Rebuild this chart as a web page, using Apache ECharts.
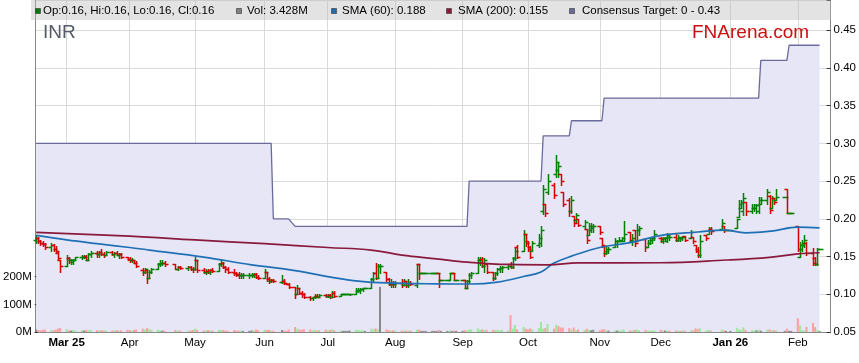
<!DOCTYPE html>
<html><head><meta charset="utf-8">
<script src="https://cdn.jsdelivr.net/npm/echarts@6/dist/echarts.min.js"></script>
<style>html,body{margin:0;padding:0;background:#fff}#c{width:859px;height:363px}</style>
</head><body><div id="c"></div>
<script>
// ---------- DATA ----------
const days = [
 '2025-02-17','2025-02-18','2025-02-19','2025-02-20','2025-02-21','2025-02-24','2025-02-25','2025-02-26','2025-02-27','2025-02-28',
 '2025-03-03','2025-03-04','2025-03-05','2025-03-06','2025-03-07','2025-03-10','2025-03-11','2025-03-12','2025-03-13','2025-03-14','2025-03-17','2025-03-18','2025-03-19','2025-03-20','2025-03-21','2025-03-24','2025-03-25','2025-03-26','2025-03-27','2025-03-28','2025-03-31',
 '2025-04-01','2025-04-02','2025-04-03','2025-04-04','2025-04-07','2025-04-08','2025-04-09','2025-04-10','2025-04-11','2025-04-14','2025-04-15','2025-04-16','2025-04-17','2025-04-22','2025-04-23','2025-04-24','2025-04-28','2025-04-29','2025-04-30',
 '2025-05-01','2025-05-02','2025-05-05','2025-05-06','2025-05-07','2025-05-08','2025-05-09','2025-05-12','2025-05-13','2025-05-14','2025-05-15','2025-05-16','2025-05-19','2025-05-20','2025-05-21','2025-05-22','2025-05-23','2025-05-26','2025-05-27','2025-05-28','2025-05-29','2025-05-30',
 '2025-06-02','2025-06-03','2025-06-04','2025-06-05','2025-06-06','2025-06-10','2025-06-11','2025-06-12','2025-06-13','2025-06-16','2025-06-17','2025-06-18','2025-06-19','2025-06-20','2025-06-23','2025-06-24','2025-06-25','2025-06-26','2025-06-27','2025-06-30',
 '2025-07-01','2025-07-02','2025-07-03','2025-07-04','2025-07-07','2025-07-08','2025-07-09','2025-07-10','2025-07-11','2025-07-14','2025-07-15','2025-07-16','2025-07-17','2025-07-18','2025-07-21','2025-07-22','2025-07-23','2025-07-24','2025-07-25','2025-07-28','2025-07-29','2025-07-30','2025-07-31',
 '2025-08-01','2025-08-04','2025-08-05','2025-08-06','2025-08-07','2025-08-08','2025-08-11','2025-08-12','2025-08-13','2025-08-14','2025-08-15','2025-08-18','2025-08-19','2025-08-20','2025-08-21','2025-08-22','2025-08-25','2025-08-26','2025-08-27','2025-08-28','2025-08-29',
 '2025-09-01','2025-09-02','2025-09-03','2025-09-04','2025-09-05','2025-09-08','2025-09-09','2025-09-10','2025-09-11','2025-09-12','2025-09-15','2025-09-16','2025-09-17','2025-09-18','2025-09-19','2025-09-22','2025-09-23','2025-09-24','2025-09-25','2025-09-26','2025-09-29','2025-09-30',
 '2025-10-01','2025-10-02','2025-10-03','2025-10-06','2025-10-07','2025-10-08','2025-10-09','2025-10-10','2025-10-13','2025-10-14','2025-10-15','2025-10-16','2025-10-17','2025-10-20','2025-10-21','2025-10-22','2025-10-23','2025-10-24','2025-10-27','2025-10-28','2025-10-29','2025-10-30','2025-10-31',
 '2025-11-03','2025-11-04','2025-11-05','2025-11-06','2025-11-07','2025-11-10','2025-11-11','2025-11-12','2025-11-13','2025-11-14','2025-11-17','2025-11-18','2025-11-19','2025-11-20','2025-11-21','2025-11-24','2025-11-25','2025-11-26','2025-11-27','2025-11-28',
 '2025-12-01','2025-12-02','2025-12-03','2025-12-04','2025-12-05','2025-12-08','2025-12-09','2025-12-10','2025-12-11','2025-12-12','2025-12-15','2025-12-16','2025-12-17','2025-12-18','2025-12-19','2025-12-22','2025-12-23','2025-12-24','2025-12-29','2025-12-30','2025-12-31',
 '2026-01-02','2026-01-05','2026-01-06','2026-01-07','2026-01-08','2026-01-09','2026-01-12','2026-01-13','2026-01-14','2026-01-15','2026-01-16','2026-01-19','2026-01-20','2026-01-21','2026-01-22','2026-01-23','2026-01-27','2026-01-28','2026-01-29','2026-01-30',
 '2026-02-02','2026-02-03','2026-02-04','2026-02-05','2026-02-06','2026-02-09','2026-02-10','2026-02-11','2026-02-12'
];
const open = [
 .172,.175,.17,.168,.166,.162,.165,.16,.155,.146,
 .138,.148,.145,.143,.146,.149,.15,.151,.146,.153,.155,.153,.156,.154,.152,.156,.153,.155,.152,.154,.15,
 .147,.145,.146,.142,.132,.13,.132,.122,.13,.133,.14,.142,.142,.14,.134,.136,.135,.136,.134,
 .133,.145,.132,.13,.131,.13,.132,.131,.14,.142,.136,.133,.13,.128,.126,.125,.125,.125,.126,.125,.127,.123,
 .122,.13,.12,.118,.119,.116,.118,.115,.114,.11,.1,.108,.102,.1,.097,.095,.096,.098,.097,.099,
 .098,.099,.096,.102,.098,.1,.1,.1,.1,.1,.105,.106,.107,.108,.108,.12,.128,.122,.138,.13,.12,.113,.114,
 .113,.115,.112,.118,.112,.115,.112,.14,.128,.128,.128,.128,.128,.128,.128,.119,.119,.119,.128,.128,.119,
 .119,.119,.108,.118,.125,.128,.145,.147,.138,.14,.13,.122,.128,.133,.135,.136,.14,.136,.148,.162,.158,.18,
 .17,.162,.158,.165,.168,.21,.22,.235,.245,.26,.265,.26,.235,.225,.21,.204,.198,.2,.19,.187,.178,.185,.188,
 .19,.174,.164,.155,.158,.162,.166,.17,.17,.171,.182,.17,.185,.17,.185,.173,.162,.168,.172,.174,
 .175,.171,.174,.17,.176,.176,.172,.174,.175,.177,.174,.176,.165,.16,.152,.178,.18,.186,.186,.19,.185,
 .185,.188,.202,.215,.21,.222,.21,.215,.215,.21,.22,.225,.23,.215,.228,.225,.229,.24,.208,.208,
 .19,.15,.16,.165,.168,.155,.148,.14,.16
];
const high = [
 .178,.176,.172,.171,.168,.168,.167,.164,.156,.146,
 .152,.15,.147,.147,.15,.152,.152,.152,.155,.157,.158,.157,.16,.156,.158,.158,.156,.157,.155,.155,.15,
 .149,.148,.146,.144,.135,.135,.132,.132,.135,.142,.145,.145,.144,.14,.137,.138,.138,.137,.136,
 .149,.145,.135,.133,.134,.133,.135,.142,.145,.143,.138,.136,.134,.13,.129,.128,.128,.128,.128,.128,.128,.126,
 .133,.13,.123,.12,.12,.126,.12,.115,.115,.11,.112,.108,.105,.102,.098,.097,.1,.1,.1,.101,
 .1,.1,.104,.104,.101,.1,.1,.1,.101,.108,.108,.108,.108,.108,.122,.13,.141,.14,.14,.13,.122,.12,.118,
 .118,.12,.12,.118,.12,.118,.14,.14,.128,.128,.128,.128,.128,.128,.128,.119,.119,.128,.128,.128,.119,
 .119,.119,.119,.128,.13,.149,.149,.149,.148,.14,.13,.13,.135,.137,.138,.14,.143,.15,.161,.165,.185,.18,
 .171,.164,.171,.18,.19,.245,.22,.26,.248,.284,.275,.26,.235,.227,.23,.204,.208,.2,.198,.187,.195,.195,.193,
 .19,.174,.164,.164,.162,.174,.172,.176,.176,.197,.182,.18,.185,.193,.19,.173,.172,.176,.176,.185,
 .176,.176,.176,.181,.18,.18,.178,.176,.177,.177,.185,.176,.165,.163,.178,.178,.189,.189,.2,.19,.185,
 .185,.2,.225,.225,.234,.222,.22,.22,.22,.229,.229,.239,.231,.23,.228,.24,.229,.24,.208,.208,
 .19,.169,.172,.178,.169,.161,.149,.161,.16
];
const low = [
 .168,.168,.165,.164,.16,.158,.158,.155,.145,.13,
 .138,.142,.14,.14,.145,.147,.148,.145,.146,.15,.15,.15,.152,.15,.152,.152,.15,.152,.148,.148,.145,
 .143,.143,.141,.136,.125,.128,.115,.122,.128,.133,.138,.139,.138,.133,.132,.133,.132,.132,.13,
 .132,.13,.128,.127,.128,.127,.129,.131,.137,.135,.13,.128,.126,.124,.122,.122,.122,.122,.123,.123,.122,.12,
 .122,.117,.115,.116,.116,.115,.114,.113,.108,.095,.1,.1,.097,.095,.092,.093,.095,.096,.096,.096,
 .096,.095,.096,.097,.098,.1,.1,.1,.099,.1,.103,.102,.104,.108,.108,.118,.12,.122,.128,.118,.112,.11,.11,
 .11,.11,.112,.11,.11,.112,.11,.12,.128,.128,.128,.128,.128,.128,.11,.119,.119,.119,.128,.119,.119,
 .119,.108,.108,.115,.122,.128,.139,.136,.13,.128,.119,.12,.125,.13,.13,.133,.135,.135,.145,.148,.158,.164,
 .158,.148,.158,.162,.164,.207,.204,.233,.228,.255,.255,.245,.217,.204,.208,.191,.196,.19,.187,.168,.178,.182,.183,
 .18,.162,.151,.153,.155,.162,.163,.17,.17,.171,.17,.165,.164,.17,.178,.158,.162,.166,.168,.172,
 .169,.168,.17,.169,.172,.17,.17,.17,.172,.17,.174,.168,.156,.149,.15,.172,.18,.18,.185,.183,.185,
 .185,.188,.202,.215,.205,.205,.208,.21,.208,.208,.22,.22,.208,.215,.22,.225,.229,.208,.208,.208,
 .158,.149,.158,.162,.152,.139,.139,.139,.16
];
const close = [
 .175,.17,.168,.166,.162,.165,.16,.158,.148,.138,
 .148,.145,.145,.146,.149,.15,.15,.146,.153,.155,.153,.156,.154,.152,.156,.153,.155,.152,.154,.15,.147,
 .145,.146,.142,.138,.13,.133,.122,.13,.133,.14,.142,.142,.14,.134,.136,.135,.136,.134,.133,
 .145,.132,.13,.131,.13,.132,.131,.14,.142,.136,.133,.13,.128,.127,.125,.126,.126,.126,.126,.127,.123,.122,
 .13,.12,.118,.119,.118,.118,.115,.114,.11,.1,.108,.102,.1,.097,.095,.096,.098,.097,.099,.098,
 .099,.096,.102,.098,.1,.1,.1,.1,.1,.105,.106,.107,.108,.108,.12,.128,.122,.138,.138,.12,.113,.114,.113,
 .115,.112,.118,.112,.115,.113,.14,.128,.128,.128,.128,.128,.128,.128,.119,.119,.119,.128,.128,.119,.119,
 .119,.108,.118,.125,.128,.145,.147,.138,.145,.13,.122,.128,.133,.135,.136,.138,.136,.148,.158,.15,.18,.168,
 .16,.15,.168,.175,.185,.24,.208,.25,.232,.275,.27,.25,.22,.21,.225,.195,.205,.192,.196,.172,.19,.19,.19,
 .182,.165,.155,.16,.16,.17,.17,.172,.174,.18,.172,.175,.168,.185,.188,.162,.168,.172,.174,.18,
 .173,.174,.174,.178,.176,.172,.176,.175,.176,.172,.182,.17,.158,.152,.17,.174,.186,.184,.195,.185,.185,
 .185,.2,.22,.222,.228,.21,.215,.218,.218,.225,.225,.235,.212,.228,.222,.229,.229,.208,.208,.208,
 .16,.165,.168,.172,.155,.142,.14,.16,.16
];
const volumeM = [
 9,7,6,8,9,7,6,8,12,15,
 10,6,5,7,5,6,5,8,6,8,6,5,7,5,6,5,5,7,5,6,8,
 7,5,8,9,12,9,14,10,8,8,6,5,5,7,5,5,5,5,7,
 12,8,5,5,7,5,5,8,7,7,5,5,7,5,5,5,4,4,5,5,9,7,
 8,7,8,5,5,7,5,4,9,18,12,9,8,10,9,6,8,5,7,9,
 6,8,10,6,5,4,4,4,5,8,7,5,6,4,12,10,13,9,163,9,7,5,6,
 5,5,5,5,5,5,8,9,4,4,4,4,4,4,8,4,4,5,4,5,4,
 4,7,5,10,9,13,8,9,8,7,8,7,8,6,8,6,61,12,26,9,18,12,
 9,13,9,14,36,12,14,29,12,26,22,16,16,14,9,16,7,9,7,12,8,6,8,
 6,9,10,6,5,6,5,5,5,9,6,5,8,9,6,8,5,5,5,6,
 8,5,5,5,5,5,5,4,5,5,6,6,13,11,14,6,8,5,8,6,4,
 4,14,9,8,17,8,6,5,6,8,5,8,9,6,6,6,4,12,4,4,
 50,24,6,6,18,33,18,7,3.428
];
const sma60Dates = ['2025-02-17','2025-03-03','2025-03-17','2025-04-01','2025-04-10','2025-05-05','2025-05-27','2025-06-10','2025-06-19','2025-07-03','2025-07-15','2025-07-28','2025-08-20','2025-09-05','2025-09-17','2025-09-29','2025-10-07','2025-10-13','2025-10-21','2025-11-03','2025-11-17','2025-12-02','2025-12-18','2025-12-30','2026-01-09','2026-01-21','2026-02-02','2026-02-12'];
const sma60Values = [.178,.172,.167,.162,.1586,.1493,.139,.134,.130,.1225,.1175,.115,.1138,.1136,.1162,.1235,.1295,.1414,.1505,.162,.1685,.1785,.1825,.1851,.1815,.1838,.189,.188];
const sma200Dates = ['2025-02-17','2025-04-01','2025-05-01','2025-06-02','2025-07-01','2025-07-21','2025-08-04','2025-08-20','2025-09-03','2025-09-22','2025-10-10','2025-10-24','2025-12-01','2025-12-31','2026-01-20','2026-02-02','2026-02-12'];
const sma200Values = [.182,.177,.172,.167,.162,.1586,.152,.147,.1427,.1395,.139,.1415,.1418,.1454,.149,.1535,.155];
const targetDates = ['2025-02-17','2025-06-05','2025-06-06','2025-06-13','2025-06-16','2025-09-03','2025-09-04','2025-10-07','2025-10-08','2025-10-20','2025-10-21','2025-11-04','2025-11-05','2026-01-15','2026-01-16','2026-01-28','2026-01-29','2026-02-12'];
const targetValues = [.30,.30,.20,.20,.19,.19,.25,.25,.31,.31,.33,.33,.36,.36,.41,.41,.43,.43];
const monthTickDates = ['2025-03-03','2025-04-01','2025-05-01','2025-06-02','2025-07-01','2025-08-01','2025-09-01','2025-10-01','2025-11-03','2025-12-01','2026-01-02','2026-02-02'];
const monthTickLabels = ['Mar 25','Apr','May','Jun','Jul','Aug','Sep','Oct','Nov','Dec','Jan 26','Feb'];
const volumeTickValues = [0,100,200];
const legendTexts = ['Op:0.16, Hi:0.16, Lo:0.16, Cl:0.16','Vol: 3.428M','SMA (60): 0.188','SMA (200): 0.155','Consensus Target: 0 - 0.43'];

// ---------- CHART ----------
function ts(s){const p=s.split('-').map(Number);return new Date(p[0],p[1]-1,p[2]).getTime();}
const GREEN='#008000', RED='#d40000';
const FONT='"Liberation Sans", Arial, sans-serif';
const xMin=new Date(2025,1,16,8,54).getTime();
const xMax=new Date(2026,1,17,2,2).getTime();
const tickTs=monthTickDates.map(ts);

const ohlcData=days.map((d,i)=>[ts(d),open[i],high[i],low[i],close[i]]);
const volData=days.map((d,i)=>{
  const prev=i>0?close[i-1]:close[i];
  const col=close[i]>prev?'#9be89b':(close[i]<prev?'#ff9e9e':'#878787');
  return {value:[ts(d),volumeM[i]],itemStyle:{color:col}};
});

function renderOHLC(params,api){
  const t=api.value(0),o=api.value(1),h=api.value(2),l=api.value(3),c=api.value(4);
  const ph=api.coord([t,h]),pl=api.coord([t,l]),po=api.coord([t,o]),pc=api.coord([t,c]);
  const x=Math.round(ph[0])+0.5;
  const col=c>=o?GREEN:RED;
  const st={stroke:col,lineWidth:1.5};
  const yo=Math.round(po[1])+0.5,yc=Math.round(pc[1])+0.5;
  const y1=Math.round(ph[1]),y2=Math.round(pl[1])+1;
  return {type:'group',children:[
    {type:'line',shape:{x1:x,y1:y1,x2:x,y2:Math.max(y2,y1+1)},style:st},
    {type:'line',shape:{x1:x-3,y1:yo,x2:x,y2:yo},style:st},
    {type:'line',shape:{x1:x,y1:yc,x2:x+3,y2:yc},style:st}
  ]};
}

const legendColors=['#008000','#808080','#1d6db2','#8b1a3a','#6b6b9b'];
const legendSq=[35,236,331,446,569];
const legendTx=[43,247,342,458,582];
const graphic=[{type:'rect',shape:{x:31,y:0,width:800,height:20},style:{fill:'rgba(185,185,185,0.4)'},z:100}];
legendTexts.forEach((t,i)=>{
  graphic.push({type:'rect',shape:{x:legendSq[i]+0.5,y:8.5,width:5,height:5},style:{fill:legendColors[i],stroke:'#333',lineWidth:0.6},z:101});
  graphic.push({type:'text',x:legendTx[i],y:11,style:{text:t,fill:'#000',font:'11.5px '+FONT,verticalAlign:'middle'},z:101});
});
graphic.push({type:'text',x:43,y:23,style:{text:'INR',fill:'#555a66',font:'19px '+FONT,verticalAlign:'top'},z:101});
graphic.push({type:'text',x:692,y:23,style:{text:'FNArena.com',fill:'#cc1010',font:'19px '+FONT,verticalAlign:'top'},z:101});

const chart=echarts.init(document.getElementById('c'),null,{renderer:'canvas'});
chart.setOption({
  animation:false,
  backgroundColor:'#ffffff',
  grid:{left:31,right:28,top:0,bottom:31},
  xAxis:{type:'value',min:xMin,max:xMax,
    axisLine:{show:true,onZero:false,lineStyle:{color:'#888',width:1}},
    axisTick:{show:false,customValues:tickTs},
    axisLabel:{customValues:tickTs,margin:5,color:'#000',fontSize:11.5,fontFamily:FONT,hideOverlap:false,
      formatter:function(v){
        let best=0,bd=Infinity;tickTs.forEach((t,i)=>{const d=Math.abs(t-v);if(d<bd){bd=d;best=i;}});
        const s=monthTickLabels[best];
        return /\d/.test(s)?'{b|'+s+'}':s;
      },
      rich:{b:{fontWeight:'bold',fontSize:11.5,fontFamily:FONT,color:'#000'}}},
    splitLine:{show:true,lineStyle:{color:'#dadada',width:1}}},
  yAxis:[
    {type:'value',position:'right',min:0.05,max:0.49,interval:0.05,
     axisLine:{show:true,lineStyle:{color:'#888'}},
     axisTick:{show:true,inside:true,length:4,lineStyle:{color:'#333'}},
     axisLabel:{margin:3,color:'#000',fontSize:11.5,fontFamily:FONT,formatter:v=>v>0.46?'':v.toFixed(2)},
     splitLine:{show:true,lineStyle:{color:'#dadada'}}},
    {type:'value',position:'left',min:0,max:1200,interval:100,
     axisLine:{show:true,lineStyle:{color:'#888'}},
     axisTick:{show:true,inside:true,length:3,customValues:volumeTickValues,lineStyle:{color:'#333'}},
     axisLabel:{customValues:volumeTickValues,margin:3,color:'#000',fontSize:11.5,fontFamily:FONT,formatter:v=>v+'M'},
     splitLine:{show:false}}
  ],
  series:[
    {type:'line',yAxisIndex:0,data:targetDates.map((d,i)=>[ts(d),targetValues[i]]),symbol:'none',silent:true,
     lineStyle:{color:'#6a6a9c',width:1.3},areaStyle:{color:'#e6e6f6',opacity:1,origin:'start'},z:1},
    {type:'bar',yAxisIndex:1,data:volData,barWidth:2,silent:true,z:2},
    {type:'custom',yAxisIndex:0,data:ohlcData,renderItem:renderOHLC,encode:{x:0,y:[1,2,3,4]},silent:true,z:3},
    {type:'line',yAxisIndex:0,data:sma60Dates.map((d,i)=>[ts(d),sma60Values[i]]),smooth:0.4,symbol:'none',silent:true,
     lineStyle:{color:'#1f70b4',width:1.7},z:4},
    {type:'line',yAxisIndex:0,data:sma200Dates.map((d,i)=>[ts(d),sma200Values[i]]),smooth:0.4,symbol:'none',silent:true,
     lineStyle:{color:'#8a1a3c',width:1.7},z:4}
  ],
  graphic:graphic
});
</script>
</body></html>
